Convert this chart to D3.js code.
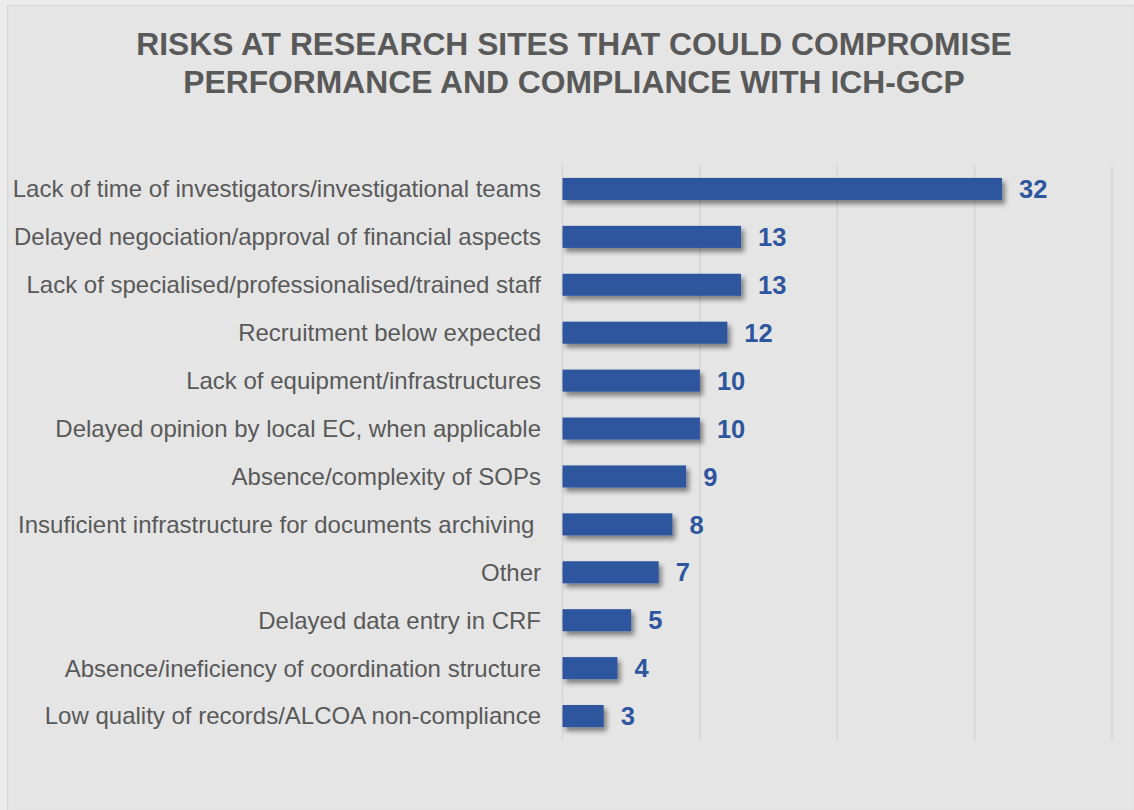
<!DOCTYPE html>
<html>
<head>
<meta charset="utf-8">
<script src="https://cdn.jsdelivr.net/npm/d3@7"></script>
<style>
  html, body { margin: 0; padding: 0; background: #ececec; }
  svg { display: block; }
</style>
</head>
<body>
<svg id="chart" width="1134" height="810"></svg>
<script>
// Risks at research sites, number of responses per item
const categories = [
  "Lack of time of investigators/investigational teams",
  "Delayed negociation/approval of financial aspects",
  "Lack of specialised/professionalised/trained staff",
  "Recruitment below expected",
  "Lack of equipment/infrastructures",
  "Delayed opinion by local EC, when applicable",
  "Absence/complexity of SOPs",
  "Insuficient infrastructure for documents archiving ",
  "Other",
  "Delayed data entry in CRF",
  "Absence/ineficiency of coordination structure",
  "Low quality of records/ALCOA non-compliance"
];
const counts = [32, 13, 13, 12, 10, 10, 9, 8, 7, 5, 4, 3];
const gridTicks = [0, 10, 20, 30, 40];
const titleLines = [
  "RISKS AT RESEARCH SITES THAT COULD COMPROMISE",
  "PERFORMANCE AND COMPLIANCE WITH ICH-GCP"
];

const svg = d3.select("#chart");
const W = 1134, H = 810;

// chart panel
svg.append("rect")
  .attr("x", 7.5).attr("y", 5.5)
  .attr("width", W - 7).attr("height", H - 5)
  .attr("fill", "#e5e5e5")
  .attr("stroke", "#d8d8d8").attr("stroke-width", 1.5);

// soft shadow under each bar
const defs = svg.append("defs");
const f = defs.append("filter").attr("id", "barShadow")
  .attr("x", "-10%").attr("y", "-40%").attr("width", "130%").attr("height", "200%");
f.append("feDropShadow")
  .attr("dx", 3).attr("dy", 4).attr("stdDeviation", 2.5)
  .attr("flood-color", "#000").attr("flood-opacity", 0.45);

const x = d3.scaleLinear().domain([0, 40]).range([562.5, 1112]);
const y = d3.scaleBand().domain(categories).range([165, 740]).paddingInner(0.54).paddingOuter(0.27);

// vertical gridlines
svg.append("g").selectAll("line")
  .data(gridTicks).join("line")
  .attr("x1", d => x(d)).attr("x2", d => x(d))
  .attr("y1", 165).attr("y2", 740)
  .attr("stroke", "#d6d6d6").attr("stroke-width", 1.6);

// title
svg.append("g").selectAll("text")
  .data(titleLines).join("text")
  .attr("x", 574).attr("y", (d, i) => 55 + i * 38)
  .attr("text-anchor", "middle")
  .attr("font-family", "Liberation Sans, Arial, sans-serif")
  .attr("font-weight", "bold")
  .attr("font-size", 31.8)
  .attr("fill", "#595959")
  .text(d => d);

// category labels
const yAxis = d3.axisLeft(y).tickSize(0).tickPadding(0);
const ax = svg.append("g").attr("transform", "translate(541,0)").call(yAxis);
ax.select(".domain").remove();
ax.selectAll("text")
  .attr("font-family", "Liberation Sans, Arial, sans-serif")
  .attr("font-size", 24)
  .attr("fill", "#595959")
  .attr("dy", "0.35em")
  .style("white-space", "pre");

// bars
svg.append("g").selectAll("rect")
  .data(counts).join("rect")
  .attr("x", x(0))
  .attr("y", (d, i) => y(categories[i]))
  .attr("width", d => x(d) - x(0))
  .attr("height", y.bandwidth())
  .attr("fill", "#2e569f")
  .attr("filter", "url(#barShadow)");

// value labels
svg.append("g").selectAll("text")
  .data(counts).join("text")
  .attr("x", d => x(d) + 17)
  .attr("y", (d, i) => y(categories[i]) + y.bandwidth() / 2)
  .attr("dy", "0.36em")
  .attr("font-family", "Liberation Sans, Arial, sans-serif")
  .attr("font-weight", "bold")
  .attr("font-size", 25.5)
  .attr("fill", "#2e569f")
  .text(d => d);
</script>
</body>
</html>
